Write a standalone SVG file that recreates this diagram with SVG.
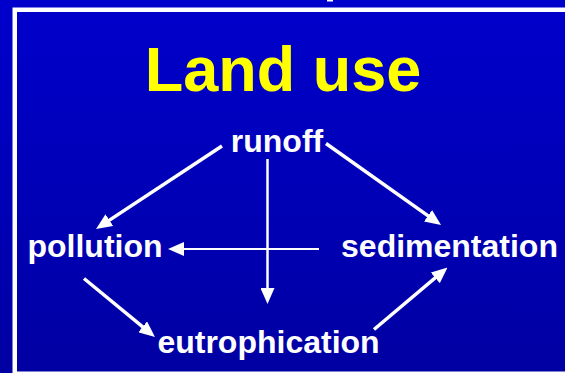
<svg xmlns="http://www.w3.org/2000/svg" width="565" height="373" viewBox="0 0 565 373">
  <defs>
    <linearGradient id="bg" x1="0" y1="0" x2="0" y2="1">
      <stop offset="0" stop-color="#0000CC"/>
      <stop offset="1" stop-color="#0000A2"/>
    </linearGradient>
    <marker id="head" markerUnits="userSpaceOnUse" viewBox="0 0 16 14" markerWidth="16" markerHeight="14" refX="8" refY="7" orient="auto">
      <path d="M0,0 L16,7 L0,14 z" fill="#FFFFFF"/>
    </marker>
  </defs>
  <style>
    .lbl { font-family: "Liberation Sans", Arial, sans-serif; font-weight: bold; font-size: 32px; fill: #FFFFFF; text-anchor: middle; }
    .title { font-family: "Liberation Sans", Arial, sans-serif; font-weight: bold; font-size: 63px; fill: #FFFF00; text-anchor: middle; }
    .edge { stroke: #FFFFFF; fill: none; stroke-width: 3.5; marker-end: url(#head); }
  </style>
  <rect x="0" y="0" width="565" height="373" fill="url(#bg)"/>
  <rect x="14.75" y="9.75" width="600" height="364" fill="none" stroke="#FFFFFF" stroke-width="4.5"/>
  <rect x="327" y="0" width="6" height="1.5" fill="#FFFFFF"/>
  <g id="title"><text class="title" x="283" y="90.7">Land use</text></g>
  <g id="connectors">
    <line class="edge" x1="222" y1="146" x2="102.7" y2="224.6"/>
    <line class="edge" x1="326" y1="143.5" x2="434.5" y2="220.4"/>
    <line class="edge" x1="267.5" y1="159" x2="267.5" y2="296" style="stroke-width:2.5"/>
    <line class="edge" x1="319" y1="249" x2="176" y2="249" style="stroke-width:2.2"/>
    <line class="edge" x1="84" y1="278.5" x2="148.8" y2="331.9"/>
    <line class="edge" x1="374" y1="329.5" x2="441.4" y2="272.7"/>
  </g>
  <g id="runoff"><text class="lbl" x="277" y="151.5">runoff</text></g>
  <g id="pollution"><text class="lbl" x="95" y="257">pollution</text></g>
  <g id="sedimentation"><text class="lbl" x="449.5" y="257">sedimentation</text></g>
  <g id="eutrophication"><text class="lbl" x="268.5" y="353">eutrophication</text></g>
</svg>
